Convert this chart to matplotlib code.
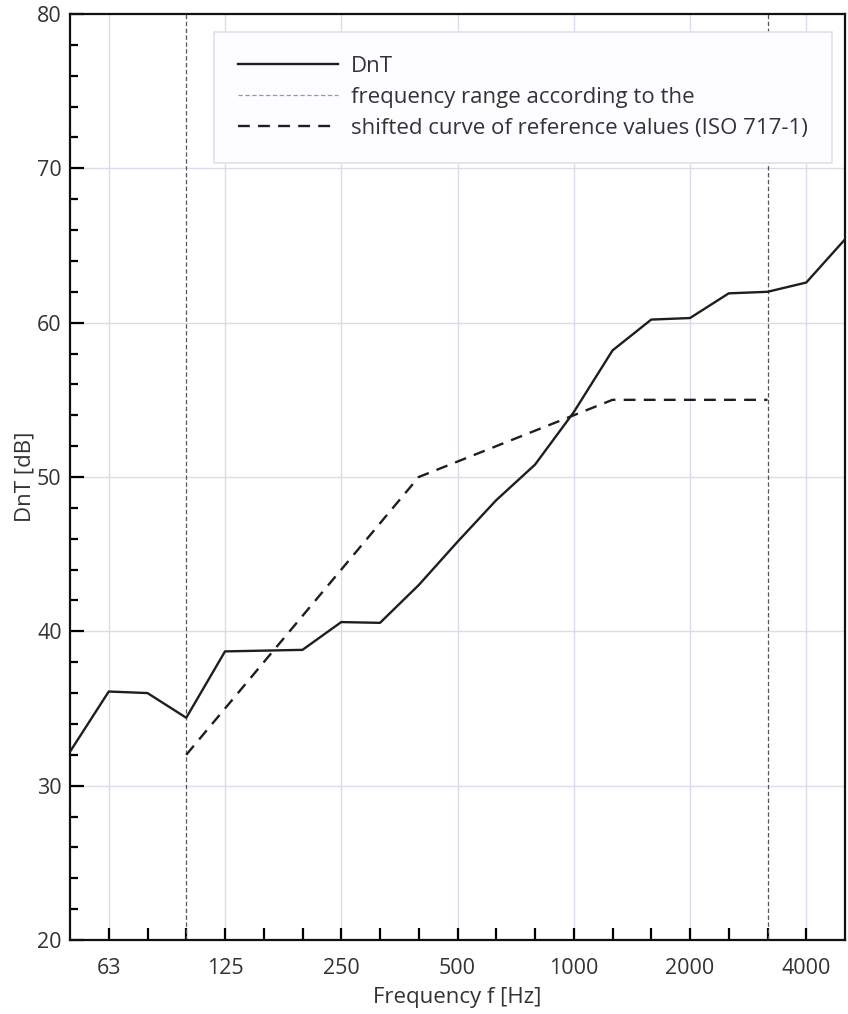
import matplotlib
matplotlib.use("Agg")
import matplotlib.pyplot as plt
from matplotlib.ticker import MultipleLocator, FixedLocator

plt.rcParams['font.family'] = ['Open Sans', 'DejaVu Sans']

# Third-octave band centre frequencies (Hz)
bands = [50, 63, 80, 100, 125, 160, 200, 250, 315, 400, 500, 630, 800,
         1000, 1250, 1600, 2000, 2500, 3150, 4000, 5000]
# Measured DnT (dB)
dnt = [32.2, 36.1, 36.0, 34.4, 38.7, 38.75, 38.8, 40.6, 40.55, 43.0, 45.8,
       48.5, 50.8, 54.2, 58.2, 60.2, 60.3, 61.9, 62.0, 62.6, 65.4]
# Shifted reference curve (ISO 717-1), 100 Hz .. 3150 Hz
ref_bands = [100, 125, 160, 200, 250, 315, 400, 500, 630, 800, 1000,
             1250, 1600, 2000, 2500, 3150]
ref_values = [32, 35, 38, 41, 44, 47, 50, 51, 52, 53, 54, 55, 55, 55, 55, 55]
# Frequency range limits
range_limits = [100, 3150]
# Labelled ticks
tick_labels = [63, 125, 250, 500, 1000, 2000, 4000]

idx = {f: i for i, f in enumerate(bands)}

fig = plt.figure(figsize=(8.48, 10.14), dpi=100)
ax = fig.add_axes([70/848, 74/1014, 775/848, 926/1014])

grid_col = '#dcdcea'
for f in tick_labels:
    ax.axvline(idx[f], color=grid_col, lw=1.0, zorder=0)
for y in [30, 40, 50, 60, 70]:
    ax.axhline(y, color=grid_col, lw=1.0, zorder=0)

x_dnt = [idx[f] for f in bands]
ax.plot(x_dnt, dnt, color='#1e1e1e', lw=1.7, label='DnT', zorder=3)

for k, f in enumerate(range_limits):
    ax.axvline(idx[f], color='#555555', lw=0.9, linestyle=(0, (3.5, 2.0)),
               zorder=2, label='frequency range according to the' if k == 0 else None)

x_ref = [idx[f] for f in ref_bands]
ax.plot(x_ref, ref_values, color='#1e1e1e', lw=1.7, linestyle=(0, (5, 3.5)),
        label='shifted curve of reference values (ISO 717-1)', zorder=3)

ax.set_xlim(0, 20)
ax.set_ylim(20, 80)

# x ticks: labelled at octaves, unlabelled at other third-octaves
ax.xaxis.set_major_locator(FixedLocator([idx[f] for f in tick_labels]))
ax.set_xticklabels([str(f) for f in tick_labels])
ax.xaxis.set_minor_locator(FixedLocator([i for i in range(1, 20) if bands[i] not in tick_labels]))
ax.yaxis.set_major_locator(MultipleLocator(10))
ax.yaxis.set_minor_locator(MultipleLocator(2))

ax.tick_params(axis='x', which='both', direction='in', length=9, width=1.6,
               pad=13, labelsize=15.5, labelcolor='#333333', top=False)
ax.tick_params(axis='y', which='major', direction='in', length=10, width=1.6,
               pad=6, labelsize=15.5, labelcolor='#333333', right=False)
ax.tick_params(axis='y', which='minor', direction='in', length=5.5, width=1.6,
               right=False)

for s in ax.spines.values():
    s.set_linewidth(1.6)
    s.set_color('#111111')

ax.set_xlabel('Frequency f [Hz]', fontsize=16, color='#333333', labelpad=6)
ax.set_ylabel('DnT [dB]', fontsize=16, color='#333333', labelpad=1)

leg = ax.legend(loc='upper right', bbox_to_anchor=(0.983, 0.981),
                fontsize=16, frameon=True, fancybox=False, handlelength=4.5,
                handletextpad=0.55, labelspacing=0.45, borderpad=1.1,
                borderaxespad=0.0)
leg.get_frame().set_edgecolor('#e0e0e6')
leg.get_frame().set_facecolor('#fdfdff')
leg.get_frame().set_linewidth(1.2)
leg.get_frame().set_alpha(1.0)
for t in leg.get_texts():
    t.set_color('#333333')
leg.get_lines()[1].set_color('#999999')

fig.savefig('out.png', dpi=100, facecolor='white')
